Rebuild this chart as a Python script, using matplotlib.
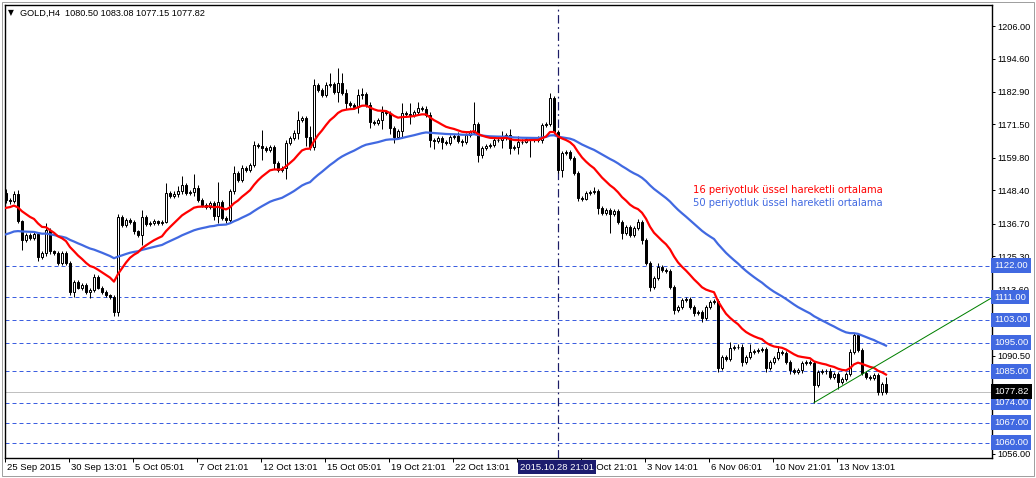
import matplotlib
matplotlib.use("Agg")
import matplotlib.pyplot as plt
from matplotlib.patches import Rectangle
import numpy as np

# GOLD H4 candles (bar 0 = 25 Sep 2015)
first_open = 1147.5
closes = [
    1145.0, 1144.5, 1147.0, 1137.5, 1131.0, 1132.7, 1131.7, 1133.0, 1125.0, 1126.5,
    1134.5, 1127.0, 1126.5, 1123.0, 1126.5, 1123.0, 1112.8, 1116.3, 1114.3, 1115.2,
    1112.8, 1113.5, 1118.0, 1114.3, 1112.8, 1111.7, 1111.0, 1105.8, 1139.0, 1136.3,
    1138.0, 1137.3, 1134.0, 1132.7, 1139.0, 1136.6, 1137.0, 1137.5, 1137.0, 1137.3,
    1147.5, 1146.4, 1147.0, 1148.0, 1150.3, 1147.5, 1147.8, 1149.2, 1145.0, 1143.3,
    1142.6, 1144.0, 1139.4, 1144.3, 1138.7, 1138.0, 1148.0, 1154.5, 1152.0, 1156.2,
    1155.5, 1157.3, 1164.3, 1163.9, 1163.2, 1162.5, 1163.6, 1158.0, 1155.5, 1156.2,
    1165.0, 1166.7, 1168.5, 1173.1, 1173.8, 1167.1, 1163.5, 1185.3, 1183.6, 1181.8,
    1185.3, 1185.7, 1182.9, 1186.0, 1182.5, 1179.0, 1178.3, 1177.6, 1181.8, 1182.2,
    1178.3, 1172.4, 1172.0, 1173.0, 1175.9, 1175.5, 1170.2, 1167.1, 1169.2, 1175.5,
    1175.0, 1174.8, 1175.9, 1177.3, 1177.0, 1174.8, 1166.0, 1165.8, 1166.7, 1165.3,
    1165.0, 1167.1, 1167.4, 1165.7, 1165.3, 1167.8, 1168.8, 1171.7, 1160.8, 1163.2,
    1163.9, 1164.3, 1166.0, 1166.2, 1166.7, 1167.8, 1163.2, 1163.6, 1165.3, 1165.5,
    1166.4, 1166.2, 1166.5, 1166.0, 1171.3, 1171.7, 1180.8, 1168.8, 1155.5, 1161.5,
    1161.8, 1159.7, 1154.5, 1145.7, 1145.5, 1147.5, 1147.8, 1148.2, 1142.2, 1140.5,
    1141.5, 1140.1, 1141.2, 1137.3, 1133.4, 1135.5, 1132.7, 1135.2, 1137.3, 1131.0,
    1122.9, 1114.5, 1117.7, 1121.5, 1120.5, 1120.1, 1114.5, 1106.5, 1107.5, 1110.0,
    1110.3, 1107.5, 1105.4, 1105.8, 1103.7, 1107.5, 1109.3, 1109.6, 1086.1, 1090.0,
    1089.3, 1093.1, 1093.5, 1093.6, 1088.2, 1090.0, 1091.7, 1092.1, 1092.4, 1092.8,
    1086.1, 1088.2, 1089.6, 1091.7, 1091.4, 1088.2, 1085.4, 1084.7, 1085.3, 1087.9,
    1088.2, 1087.9, 1080.2, 1084.7, 1084.9, 1085.2, 1083.0, 1084.0, 1081.2, 1082.3,
    1084.0, 1091.7, 1097.6, 1092.4, 1084.4, 1083.0, 1082.6, 1083.6, 1077.6, 1080.5,
    1077.82,
]
upper_wick = [
    1.5, 0.8, 1.0, 1.5, 0.5, 0.8, 0.6, 0.8, 0.8, 0.6,
    2.5, 0.8, 0.6, 0.8, 0.8, 0.6, 0.8, 0.8, 0.6, 0.8,
    0.6, 0.8, 1.0, 0.6, 0.5, 0.6, 0.5, 0.6, 1.0, 0.8,
    0.8, 0.6, 0.8, 0.6, 2.5, 0.8, 0.8, 1.0, 0.6, 0.8,
    3.5, 0.8, 1.0, 2.0, 3.0, 0.8, 0.8, 5.0, 1.0, 0.6,
    0.8, 0.8, 0.8, 7.0, 0.8, 0.6, 1.0, 2.5, 0.8, 1.0,
    0.8, 0.8, 1.5, 0.8, 5.5, 0.6, 0.8, 0.8, 0.8, 0.8,
    1.0, 0.8, 1.0, 3.0, 0.8, 0.5, 4.0, 2.0, 0.8, 0.8,
    1.0, 3.8, 0.8, 5.3, 3.5, 1.5, 0.8, 0.6, 2.0, 2.0,
    0.8, 1.0, 0.6, 0.8, 2.0, 0.8, 0.8, 0.6, 0.8, 3.5,
    0.8, 4.0, 0.8, 2.0, 0.8, 0.8, 1.0, 0.6, 0.8, 0.8,
    0.6, 0.8, 0.8, 1.5, 0.6, 0.8, 0.8, 7.5, 0.8, 0.8,
    0.8, 0.6, 1.5, 0.8, 2.5, 0.8, 2.0, 0.8, 2.0, 0.8,
    0.8, 0.8, 0.6, 0.8, 0.8, 0.8, 1.7, 0.5, 0.8, 0.8,
    0.8, 0.6, 0.8, 0.8, 0.6, 0.8, 0.8, 1.4, 0.8, 0.6,
    0.8, 0.8, 0.8, 0.6, 0.8, 0.8, 0.6, 0.8, 1.0, 0.8,
    0.8, 0.6, 0.8, 1.5, 0.8, 0.6, 0.8, 0.8, 0.8, 0.8,
    0.8, 0.6, 0.8, 0.8, 0.6, 0.8, 0.8, 0.8, 0.8, 0.8,
    0.6, 2.0, 0.8, 0.8, 0.8, 0.8, 3.0, 0.8, 0.6, 0.8,
    0.8, 0.8, 0.8, 2.0, 0.8, 0.6, 0.8, 0.6, 0.8, 0.8,
    0.8, 0.6, 0.8, 0.8, 0.8, 0.6, 0.8, 0.8, 0.8, 0.6,
    0.8, 1.0, 0.8, 0.6, 0.8, 0.6, 0.8, 0.8, 0.6, 0.8,
    2.58,
]
lower_wick = [
    1.0, 0.8, 0.6, 0.5, 3.5, 0.8, 0.6, 0.8, 1.5, 0.6,
    1.0, 1.0, 0.6, 0.8, 0.8, 0.6, 1.0, 1.7, 0.6, 0.8,
    0.6, 2.0, 0.8, 0.6, 0.8, 0.6, 0.8, 1.5, 1.5, 0.8,
    0.8, 0.6, 0.8, 0.6, 3.5, 0.8, 0.8, 0.6, 0.8, 0.6,
    0.5, 0.8, 0.6, 0.8, 0.8, 0.8, 0.6, 1.5, 0.8, 0.6,
    0.8, 0.6, 1.5, 2.5, 0.8, 1.0, 0.8, 0.8, 0.6, 0.8,
    0.8, 0.6, 0.8, 0.8, 4.0, 0.8, 0.6, 2.0, 0.8, 0.8,
    4.0, 0.8, 0.6, 2.0, 0.8, 3.0, 1.0, 0.8, 0.6, 0.8,
    0.8, 0.6, 0.8, 3.5, 0.8, 2.0, 0.8, 0.8, 2.0, 1.5,
    0.8, 2.0, 0.8, 0.6, 3.0, 0.8, 2.0, 2.0, 0.8, 2.0,
    0.8, 3.0, 0.8, 1.0, 0.8, 0.6, 2.5, 3.0, 0.8, 2.5,
    0.8, 0.6, 0.8, 0.8, 1.5, 0.8, 0.6, 0.8, 2.5, 1.0,
    0.8, 0.6, 0.8, 0.8, 3.0, 0.8, 2.0, 0.8, 2.5, 0.8,
    0.6, 6.0, 0.8, 0.8, 1.0, 0.8, 0.8, 0.6, 1.0, 2.5,
    0.8, 0.8, 0.6, 1.0, 0.8, 0.6, 0.8, 0.8, 2.0, 0.8,
    0.6, 6.5, 0.8, 0.8, 2.0, 0.8, 0.8, 0.6, 0.8, 1.5,
    0.8, 1.5, 0.8, 0.6, 0.8, 0.8, 0.6, 1.5, 0.8, 0.6,
    0.8, 0.8, 1.0, 0.6, 1.5, 0.8, 0.6, 0.8, 1.5, 0.8,
    0.8, 0.6, 0.8, 0.8, 1.5, 0.8, 0.6, 0.8, 0.8, 0.6,
    1.5, 0.8, 0.6, 0.8, 0.8, 0.6, 1.5, 0.8, 0.6, 0.8,
    0.8, 0.6, 6.2, 0.8, 0.6, 0.8, 0.8, 0.6, 2.5, 0.8,
    0.6, 0.8, 0.8, 0.8, 0.6, 0.8, 0.8, 0.6, 1.0, 0.9,
    0.67,
]

ema16_start = 1141.9
ema50_start = 1132.5

levels = [1122.0, 1111.0, 1103.0, 1095.0, 1085.0, 1074.0, 1067.0, 1060.0]
price_ticks = [1206.00, 1194.60, 1182.90, 1171.50, 1159.80, 1148.40, 1136.70,
               1125.30, 1113.60, 1102.20, 1090.50, 1079.10, 1067.40, 1056.00]
# labels hidden under the level boxes in the reference are left blank
price_tick_labels = ["1206.00", "1194.60", "1182.90", "1171.50", "1159.80", "1148.40",
                     "1136.70", "1125.30", "1113.60", "", "1090.50", "1079.10", "",
                     "1056.00"]
time_labels = ["25 Sep 2015", "30 Sep 13:01", "5 Oct 05:01", "7 Oct 21:01",
               "12 Oct 13:01", "15 Oct 05:01", "19 Oct 21:01", "22 Oct 13:01",
               "", "28 Oct 21:01", "3 Nov 14:01", "6 Nov 06:01",
               "10 Nov 21:01", "13 Nov 13:01"]
bid = 1077.82
cursor_bar = 138
cursor_label = "2015.10.28 21:01"
trend_bars = [202, 247]
trend_prices = [1074.0, 1111.2]
header = "GOLD,H4  1080.50 1083.08 1077.15 1077.82"
ema16_label = "16 periyotluk üssel hareketli ortalama"
ema50_label = "50 periyotluk üssel hareketli ortalama"


def ema(values, period, start):
    a = 2.0 / (period + 1)
    out = []
    prev = start
    for v in values:
        prev = prev + a * (v - prev)
        out.append(prev)
    return out


W, H = 1036, 478
closes = np.array(closes)
opens = np.array([first_open] + list(closes[:-1]))
highs = np.maximum(opens, closes) + np.array(upper_wick)
lows = np.minimum(opens, closes) - np.array(lower_wick)
idx = np.arange(len(closes))

fig = plt.figure(figsize=(W / 100, H / 100), dpi=100, facecolor="white")
ax = fig.add_axes([4.5 / W, 1 - 458 / H, (992 - 4.5) / W, (458 - 4.5) / H])
ax.set_xlim(-0.375, 246.5)
ax.set_ylim(1054.58, 1213.54)
for s in ax.spines.values():
    s.set_color("black")
    s.set_linewidth(1.0)

PX = 0.72  # one pixel in points

# horizontal levels
for lv in levels:
    ax.axhline(lv, color="#3c5fe0", lw=PX, ls=(0, (4, 3)), zorder=1)
ax.axhline(bid, color="#c0c0c0", lw=PX, zorder=1)

# vertical cursor line
ax.axvline(cursor_bar, color="#1c1c66", lw=PX * 1.2, ls=(0, (7, 3, 1.5, 3)), zorder=1)

# candles
ax.vlines(idx, lows, highs, color="black", lw=PX, zorder=3)
up = closes >= opens
dn = ~up
ax.bar(idx[up], closes[up] - opens[up], bottom=opens[up], width=0.5,
       facecolor="white", edgecolor="black", lw=PX, zorder=4)
ax.bar(idx[dn], closes[dn] - opens[dn], bottom=opens[dn], width=0.5,
       facecolor="black", edgecolor="black", lw=PX, zorder=4)

# moving averages
ax.plot(idx, ema(closes, 50, ema50_start), color="#4169e1", lw=1.6, zorder=5)
ax.plot(idx, ema(closes, 16, ema16_start), color="#ff0000", lw=1.6, zorder=6)

# trend line
ax.plot(trend_bars, trend_prices, color="#008000", lw=PX, zorder=6, clip_on=False)

# indicator labels
ax.text(171.7, 1148.5, ema16_label, color="#ff0000", fontsize=7.2,
        family="DejaVu Sans", va="center", ha="left", zorder=7)
ax.text(171.7, 1144.0, ema50_label, color="#4169e1", fontsize=7.2,
        family="DejaVu Sans", va="center", ha="left", zorder=7)

# price axis on the right
ax.yaxis.tick_right()
ax.set_yticks(price_ticks)
ax.set_yticklabels(price_tick_labels, family="Liberation Sans", fontsize=6.6)
ax.tick_params(axis="y", direction="out", length=2.5, width=PX, pad=1.5, colors="black")

# time axis
ticks = [-0.25 + 16 * k for k in range(len(time_labels))]
ax.set_xticks(ticks)
ax.set_xticklabels([])
ax.tick_params(axis="x", direction="out", length=3, width=PX)
for t, lab in zip(ticks, time_labels):
    if lab:
        ax.annotate(lab, xy=(t, 0), xycoords=("data", "axes fraction"),
                    xytext=(1.6, -6.6), textcoords="offset points",
                    ha="left", va="center", fontsize=6.8, family="Liberation Sans",
                    annotation_clip=False)

# cursor time box
ax.annotate(cursor_label, xy=(cursor_bar - 0.25, 0), xycoords=("data", "axes fraction"),
            xytext=(0, -6.6), textcoords="offset points", ha="center", va="center",
            fontsize=6.8, family="Liberation Sans", color="white",
            bbox=dict(boxstyle="square,pad=0.25", fc="#1c1c6e", ec="none"),
            annotation_clip=False, zorder=10)


# price boxes on the right
def price_box(p, fc):
    ax.annotate("%.2f" % p, xy=(1.0, p), xycoords=("axes fraction", "data"),
                xytext=(1.6, 0), textcoords="offset points", ha="left", va="center",
                fontsize=6.8, family="Liberation Sans", color="white",
                bbox=dict(boxstyle="square,pad=0.3", fc=fc, ec="none"),
                annotation_clip=False, zorder=10)


for lv in levels:
    price_box(lv, "#4169e1")
price_box(bid, "black")

# header
fig.text(8 / W, 1 - 13 / H, "\u25bc", fontsize=5.5, family="DejaVu Sans",
         va="center", ha="left")
fig.text(20 / W, 1 - 13 / H, header, fontsize=6.6, family="Liberation Sans",
         va="center", ha="left")

# outer frame
fig.patches.append(Rectangle((2 / W, 2 / H), (W - 4) / W, (H - 4) / H,
                             transform=fig.transFigure, fill=False,
                             ec="#a0a0a0", lw=PX))

fig.savefig("out.png", dpi=100, facecolor="white")
